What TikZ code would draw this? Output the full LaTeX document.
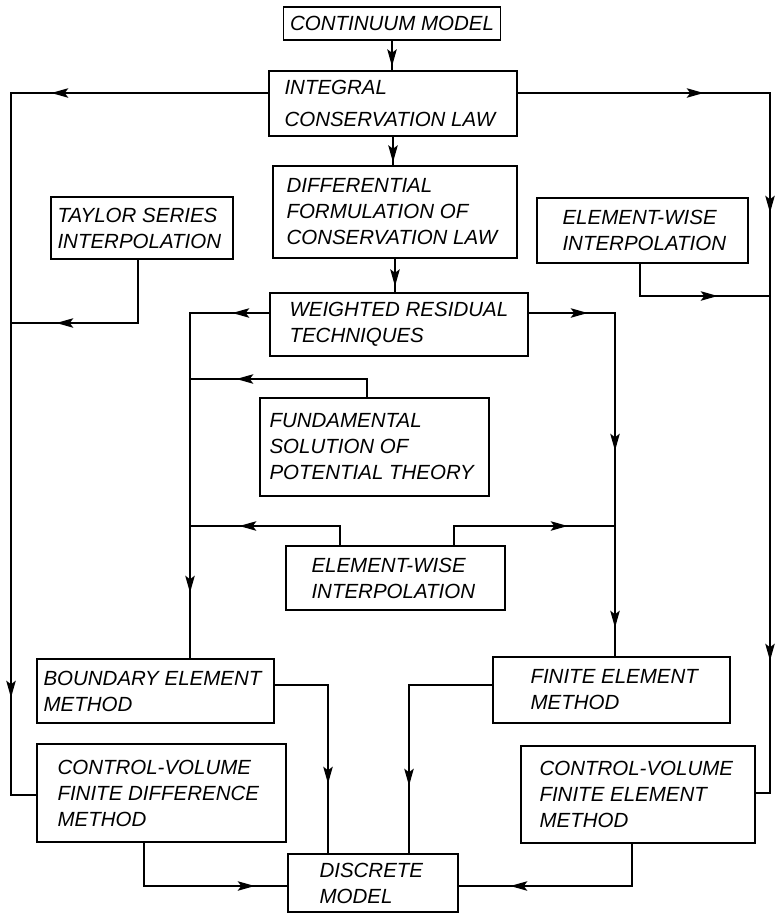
\documentclass[tikz,border=0pt]{standalone}
\usepackage{fontspec}
\setmainfont{Liberation Sans}
\usetikzlibrary{arrows.meta,decorations.markings}
\begin{document}
\begin{tikzpicture}[x=1pt,y=-1pt,
  >={Stealth[length=17pt,width=9.5pt,inset=3.5pt]},
  box/.style={draw, line width=1.4pt, inner sep=0pt},
  txt/.style={inner sep=0pt, align=left, anchor=west, font=\fontsize{20.5}{26}\selectfont\itshape},
  conn/.style={draw, line width=1.4pt},
  mk/.style={postaction={decorate,decoration={markings,mark=at position #1 with {\arrow{>}}}}}]
\useasboundingbox (0,0) rectangle (774,913);

% boxes
\node[box, minimum width=217pt, minimum height=33pt] (cont) at (392,23.5) {};
\node[box, minimum width=248pt, minimum height=65pt] (integ) at (393,103.5) {};
\node[box, minimum width=244pt, minimum height=92pt] (diff) at (395,212) {};
\node[box, minimum width=182pt, minimum height=62pt] (taylor) at (142,228) {};
\node[box, minimum width=211pt, minimum height=65pt] (ewR) at (642.5,230.5) {};
\node[box, minimum width=258pt, minimum height=63pt] (wrt) at (399,324.5) {};
\node[box, minimum width=229pt, minimum height=98pt] (fund) at (374.5,447) {};
\node[box, minimum width=219pt, minimum height=64pt] (ewM) at (395.5,578) {};
\node[box, minimum width=237pt, minimum height=64pt] (bem) at (155.5,691) {};
\node[box, minimum width=249pt, minimum height=98pt] (cvfd) at (161.5,793) {};
\node[box, minimum width=170pt, minimum height=58pt] (disc) at (373,883) {};
\node[box, minimum width=237pt, minimum height=66pt] (fem) at (611.5,690) {};
\node[box, minimum width=234pt, minimum height=97pt] (cvfe) at (638,794.5) {};

% texts
\node[txt, anchor=center] (contT) at (cont.center) {CONTINUUM MODEL};
\node[txt] (integT) at ([xshift=16pt]integ.west) {INTEGRAL\\[6pt]CONSERVATION LAW};
\node[txt] (diffT) at ([xshift=14pt]diff.west) {DIFFERENTIAL\\FORMULATION OF\\CONSERVATION LAW};
\node[txt] (taylorT) at ([xshift=7pt]taylor.west) {TAYLOR SERIES\\INTERPOLATION};
\node[txt] (ewRT) at ([xshift=26pt]ewR.west) {ELEMENT-WISE\\INTERPOLATION};
\node[txt] (wrtT) at ([xshift=20pt]wrt.west) {WEIGHTED RESIDUAL\\TECHNIQUES};
\node[txt] (fundT) at ([xshift=10pt]fund.west) {FUNDAMENTAL\\SOLUTION OF\\POTENTIAL THEORY};
\node[txt] (ewMT) at ([xshift=26pt]ewM.west) {ELEMENT-WISE\\INTERPOLATION};
\node[txt] (bemT) at ([xshift=7pt]bem.west) {BOUNDARY ELEMENT\\METHOD};
\node[txt] (cvfdT) at ([xshift=21pt]cvfd.west) {CONTROL-VOLUME\\FINITE DIFFERENCE\\METHOD};
\node[txt] (discT) at ([xshift=32pt]disc.west) {DISCRETE\\MODEL};
\node[txt] (femT) at ([xshift=38pt]fem.west) {FINITE ELEMENT\\METHOD};
\node[txt] (cvfeT) at ([xshift=19pt]cvfe.west) {CONTROL-VOLUME\\FINITE ELEMENT\\METHOD};

% bend points
\coordinate (L1) at (11,93);
\coordinate (L2) at (11,795);
\coordinate (LT) at (11,323);
\coordinate (R1) at (770,93);
\coordinate (R2) at (770,793);
\coordinate (RE) at (770,296);
\coordinate (BL) at (190,313);
\coordinate (BLf) at (190,379);
\coordinate (BLe) at (190,526);
\coordinate (FR) at (615,313);
\coordinate (FRe) at (615,526);

% connectors
\draw[conn, mk=-4pt] (cont.south) -- (cont.south |- integ.north);
\draw[conn, mk=-3pt] (integ.south) -- (integ.south |- diff.north);
\draw[conn, mk=-6pt] (diff.south) -- (diff.south |- wrt.north);
\draw[conn, mk=217pt, mk=862pt] (integ.west |- L1) -- (L1) -- (L2) -- (cvfd.west |- L2);
\draw[conn, mk=186pt, mk=372pt, mk=820pt] (integ.east |- R1) -- (R1) -- (R2) -- (cvfe.east |- R2);
\draw[conn, mk=145pt] ([xshift=-4pt]taylor.south) |- (LT);
\draw[conn, mk=110pt] ([xshift=-2.5pt]ewR.south) |- (RE);
\draw[conn, mk=37pt, mk=359pt] ([yshift=11.5pt]wrt.west) -- (BL) -- (BL |- bem.north);
\draw[conn, mk=59pt, mk=224pt, mk=401pt] ([yshift=11.5pt]wrt.east) -- (FR) -- (FR |- fem.north);
\draw[conn, mk=149pt] ([xshift=-7.5pt]fund.north) |- (BLf);
\draw[conn, mk=120pt] ([xshift=-55.5pt]ewM.north) |- (BLe);
\draw[conn, mk=133pt] ([xshift=58.5pt]ewM.north) |- (FRe);
\draw[conn, mk=152pt] ([yshift=6pt]bem.east) -| ([xshift=-45pt]disc.north);
\draw[conn, mk=184pt] ([yshift=5pt]fem.west) -| ([xshift=36pt]disc.north);
\draw[conn, mk=154pt] ([xshift=-17.5pt]cvfd.south) |- ([yshift=-3pt]disc.west);
\draw[conn, mk=164pt] ([xshift=-6pt]cvfe.south) |- ([yshift=-3pt]disc.east);
\end{tikzpicture}
\end{document}
